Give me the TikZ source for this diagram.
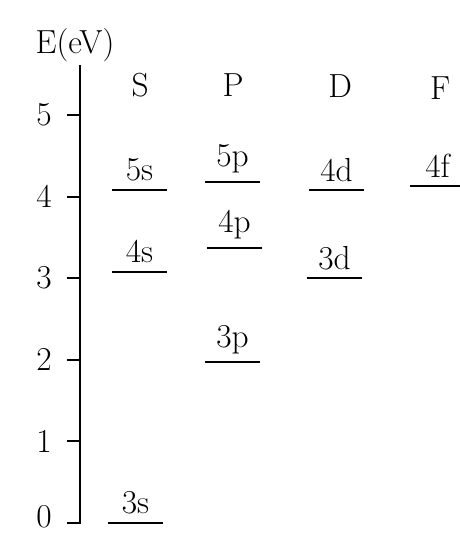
\documentclass[tikz,border=0pt]{standalone}
\usepackage{amsfonts, amssymb, amsmath}

\begin{document}
\begin{tikzpicture}[x=0.02cm, y=1.632cm, font=\fontsize{19}{22}\selectfont]
    % Marco fijo de la figura
    \useasboundingbox (-80,-0.1225) rectangle (379,6.409);

    % Parámetros: largo de las marcas y de los niveles
    \def\tick{13}   % marca del eje
    \def\lw{55}     % ancho de cada nivel

    % Eje de energía (termina doblado en 0)
    \draw[line width=1.4pt] (-\tick,0) -- (0,0) -- (0,5.61);
    \node (E) at (-5,5.86) {E(eV)};

    % Marcas y valores del eje
    \foreach \k in {1,...,5}
        \draw[line width=1.2pt] (-\tick,\k) -- (0,\k);
    \foreach \k in {1,...,5}
        \node[anchor=east] (t\k) at (-22,\k) {\k};
    \node[anchor=base east, inner ysep=0pt] (t0) at (-22,-0.06) {0};

    % Títulos de las columnas
    \node (S) at (60,5.37)  {S};
    \node (P) at (153,5.37) {P};
    \node (D) at (260,5.35) {D};
    \node (F) at (360,5.33) {F};

    % Niveles: nombre / inicio / energía
    \foreach \n/\xa/\e in {5s/32/4.08, 4s/32/3.08, 3s/28/0,
                           5p/125/4.18, 4p/127/3.37, 3p/125/1.97,
                           4d/229/4.08, 3d/227/3.0, 4f/330/4.13}
        \draw[line width=1.1pt] (\xa,\e) -- ++(\lw,0)
            node[midway, above=1pt] (\n) {\n};
\end{tikzpicture}
\end{document}
